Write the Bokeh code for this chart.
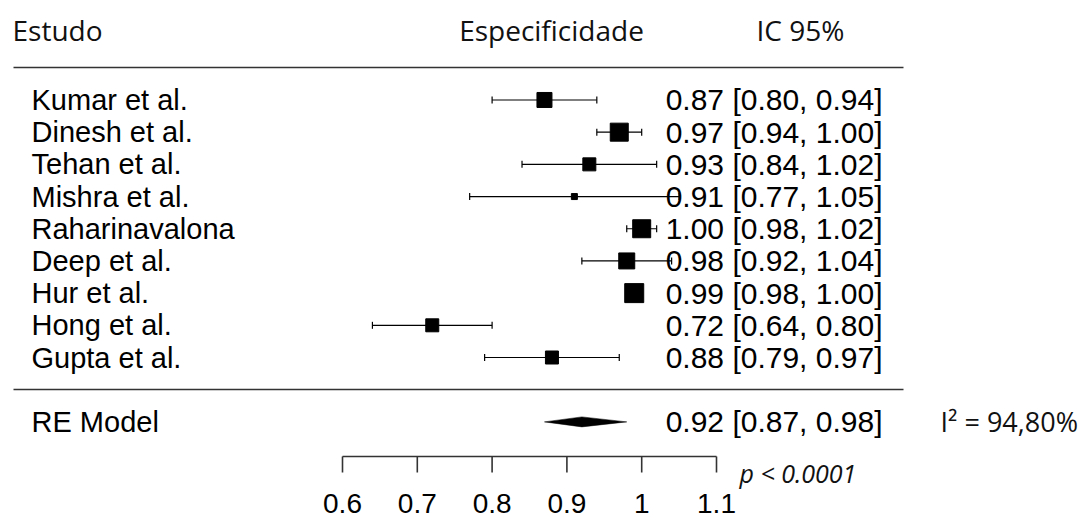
import math
from bokeh.plotting import figure
from bokeh.models import Range1d, ColumnDataSource
from bokeh.core.properties import value
from bokeh.embed import file_html
from bokeh.resources import INLINE

# ---------------- data ----------------
studies = ["Kumar et al.", "Dinesh et al.", "Tehan et al.", "Mishra et al.",
           "Raharinavalona", "Deep et al.", "Hur et al.", "Hong et al.", "Gupta et al."]
estimate = [0.87, 0.97, 0.93, 0.91, 1.00, 0.98, 0.99, 0.72, 0.88]
ci_low = [0.80, 0.94, 0.84, 0.77, 0.98, 0.92, 0.98, 0.64, 0.79]
ci_high = [0.94, 1.00, 1.02, 1.05, 1.02, 1.04, 1.00, 0.80, 0.97]
weight_px = [15, 18, 13, 6, 18, 16, 19, 13, 13]   # marker size reflects study weight

re_label = "RE Model"
re_est, re_low, re_high = 0.92, 0.87, 0.98
i2_text = "I² = 94,80%"
p_text = "p < 0.0001"
tick_values = [0.6, 0.7, 0.8, 0.9, 1.0, 1.1]
tick_labels = ["0.6", "0.7", "0.8", "0.9", "1", "1.1"]
headers = ["Estudo", "Especificidade", "IC 95%"]

# ---------------- layout helpers ----------------
W, H = 1083, 519
OFF = 0
KX = 748.0            # px per unit on the effect scale
X0 = 0.6 - (342 - OFF) / KX
X1 = X0 + W / KX
KY = 32.19            # px per row
Y1 = 1 + (357 - OFF) / KY
Y0 = Y1 - H / KY

def px(sx):
    return X0 + (sx - OFF) / KX

def py(sy):
    return Y1 - (sy - OFF) / KY

n = len(studies)
rows = [n - i for i in range(n)]      # 9 .. 1
re_row = -1

p = figure(width=W, height=H, output_backend="svg", toolbar_location=None,
           x_range=Range1d(X0, X1), y_range=Range1d(Y0, Y1),
           min_border=0, outline_line_color=None)
p.axis.visible = False
p.grid.visible = False
p.background_fill_color = "white"
p.border_fill_color = "white"

LINE = "#333333"
NAME_FS = "29px"
CI_FS = "30px"

# header texts
for hx, htxt, al in [(12, headers[0], "left"), (551, headers[1], "center"), (800, headers[2], "center")]:
    p.text(x=[px(hx)], y=[py(29)], text=[htxt], text_font=value("Open Sans"),
           text_font_size="28px", text_align=al, text_baseline="middle", text_color="#111111")

# separator lines
p.segment(x0=[px(13), px(13)], x1=[px(903), px(903)], y0=[py(67), py(389)], y1=[py(67), py(389)],
          line_color=LINE, line_width=1.6)

# study rows
src = ColumnDataSource(dict(
    row=rows, est=estimate, lo=ci_low, hi=ci_high, size=weight_px, name=studies,
    lab=[f"{e:.2f} [{l:.2f}, {h:.2f}]" for e, l, h in zip(estimate, ci_low, ci_high)],
))
p.segment(x0="lo", x1="hi", y0="row", y1="row", source=src, line_color="black", line_width=1.2)
p.scatter(x="lo", y="row", marker="dash", angle=math.pi / 2, size=7, source=src,
          line_color="black", line_width=1.2)
p.scatter(x="hi", y="row", marker="dash", angle=math.pi / 2, size=7, source=src,
          line_color="black", line_width=1.2)
p.scatter(x="est", y="row", marker="square", size="size", source=src,
          fill_color="black", line_color="black")
p.text(x=px(31), y="row", text="name", source=src, text_font=value("Liberation Sans"),
       text_font_size=NAME_FS, text_align="left", text_baseline="middle", text_color="black")
p.text(x=px(882), y="row", text="lab", source=src, text_font=value("Liberation Sans"),
       text_font_size=CI_FS, text_align="right", text_baseline="middle", text_color="black")

# RE model row
h = 5 / KY
p.patch(x=[re_low, re_est, re_high, re_est], y=[re_row, re_row + h, re_row, re_row - h],
        fill_color="black", line_color="black", line_width=0.5)
p.text(x=[px(31)], y=[re_row], text=[re_label], text_font=value("Liberation Sans"),
       text_font_size=NAME_FS, text_align="left", text_baseline="middle", text_color="black")
p.text(x=[px(882)], y=[re_row], text=[f"{re_est:.2f} [{re_low:.2f}, {re_high:.2f}]"],
       text_font=value("Liberation Sans"), text_font_size=CI_FS, text_align="right",
       text_baseline="middle", text_color="black")
p.text(x=[px(940)], y=[re_row], text=[i2_text], text_font=value("Open Sans"),
       text_font_size="27px", text_align="left", text_baseline="middle", text_color="#111111")

# x axis (drawn manually like the reference)
ay = py(456)
p.segment(x0=[tick_values[0]], x1=[tick_values[-1]], y0=[ay], y1=[ay], line_color=LINE, line_width=1.6)
p.segment(x0=tick_values, x1=tick_values, y0=[ay] * len(tick_values), y1=[py(472)] * len(tick_values),
          line_color=LINE, line_width=1.6)
p.text(x=tick_values, y=[py(503)] * len(tick_values), text=tick_labels,
       text_font=value("Liberation Sans"), text_font_size="28px", text_align="center",
       text_baseline="middle", text_color="black")
p.text(x=[px(739)], y=[py(472)], text=[p_text], text_font=value("Open Sans"),
       text_font_size="25px", text_font_style="italic", text_align="left",
       text_baseline="middle", text_color="#111111")

open("out.html", "w").write(file_html(p, INLINE))
